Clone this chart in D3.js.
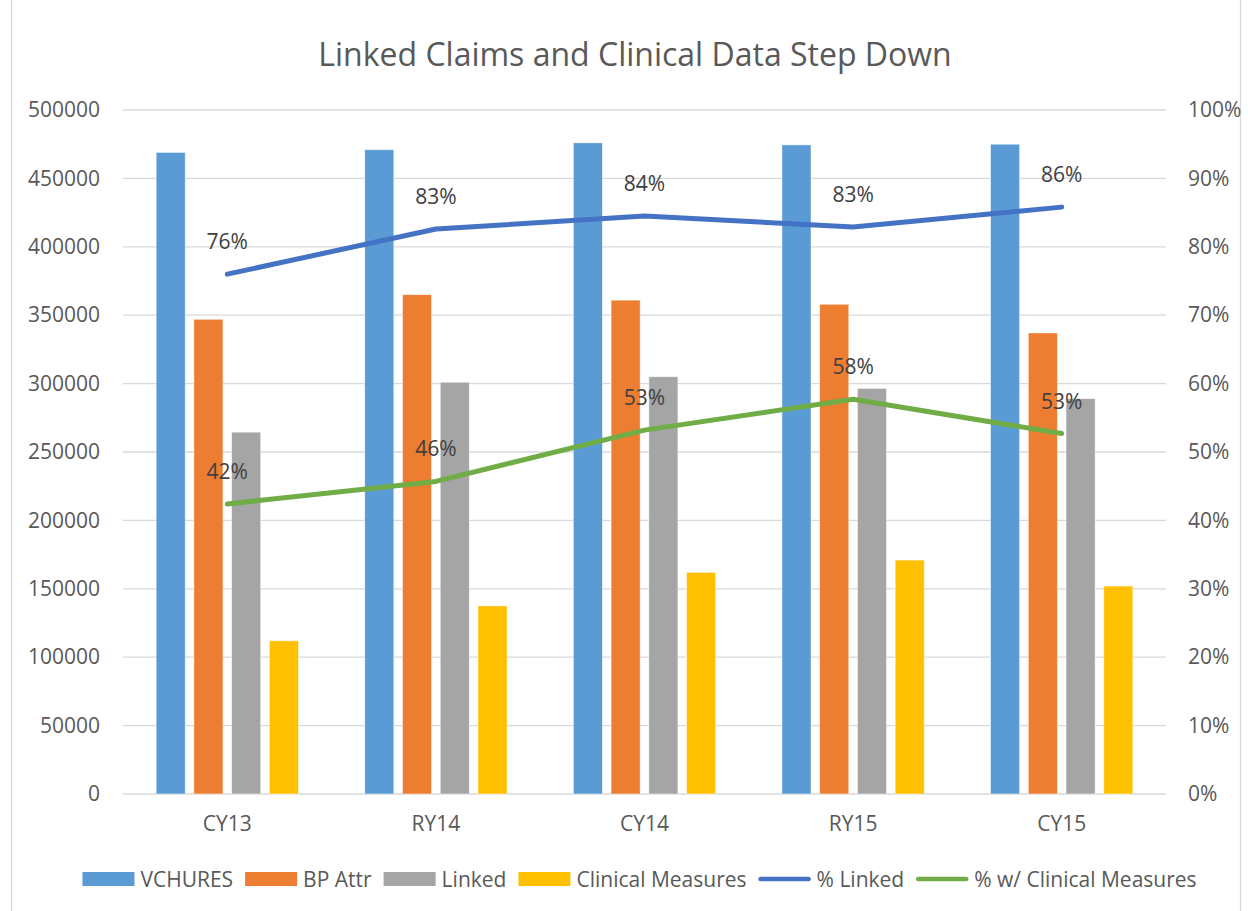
<!DOCTYPE html>
<html>
<head>
<meta charset="utf-8">
<script src="https://cdn.jsdelivr.net/npm/d3@7"></script>
<style>
  html, body { margin: 0; padding: 0; background: #fff; }
  svg { display: block; font-family: "Open Sans", "Noto Sans", sans-serif; }
</style>
</head>
<body>
<svg id="chart" width="1248" height="911"></svg>
<script>
const categories = ["CY13", "RY14", "CY14", "RY15", "CY15"];
const barSeries = ["VCHURES", "BP Attr", "Linked", "Clinical Measures"];
const vchures = [469000, 471000, 476000, 474500, 475000];
const bpAttr = [347000, 365000, 361000, 358000, 337000];
const linked = [264500, 301000, 305000, 296500, 289000];
const clinical = [112000, 137500, 162000, 171000, 152000];
const pctLinked = [0.76, 0.826, 0.845, 0.829, 0.858];
const pctClinical = [0.424, 0.457, 0.532, 0.577, 0.527];
const pctLinkedLabels = ["76%", "83%", "84%", "83%", "86%"];
const pctClinicalLabels = ["42%", "46%", "53%", "58%", "53%"];
const leftTicks = [0, 50000, 100000, 150000, 200000, 250000, 300000, 350000, 400000, 450000, 500000];
const rightTicks = [0, 0.1, 0.2, 0.3, 0.4, 0.5, 0.6, 0.7, 0.8, 0.9, 1.0];

const barValues = [vchures, bpAttr, linked, clinical];
const barColors = ["#5b9bd5", "#ed7d31", "#a5a5a5", "#ffc000"];
const lineSeries = [
  { name: "% Linked", values: pctLinked, labels: pctLinkedLabels, color: "#4472c4" },
  { name: "% w/ Clinical Measures", values: pctClinical, labels: pctClinicalLabels, color: "#70ad47" }
];

const svg = d3.select("#chart");
const plotL = 123, plotR = 1166, plotT = 110, plotB = 794;
const fs = 21;

// chart border
svg.append("rect").attr("x", 11.5).attr("y", -2).attr("width", 1229).attr("height", 920)
  .attr("fill", "none").attr("stroke", "#d9d9d9").attr("stroke-width", 1.3);

const x0 = d3.scaleBand().domain(categories).range([plotL, plotR]).paddingInner(0).paddingOuter(0);
const x1 = d3.scaleBand().domain(barSeries).range([-71.15, 71.15]).paddingInner(0.23).paddingOuter(0);
const yL = d3.scaleLinear().domain([0, 500000]).range([plotB, plotT]);
const yR = d3.scaleLinear().domain([0, 1]).range([plotB, plotT]);

// gridlines
svg.append("g").selectAll("line").data(leftTicks).join("line")
  .attr("x1", plotL).attr("x2", plotR)
  .attr("y1", d => yL(d)).attr("y2", d => yL(d))
  .attr("stroke", "#d9d9d9").attr("stroke-width", 1.3);

// left axis
const axL = d3.axisLeft(yL).tickValues(leftTicks).tickFormat(d3.format("d")).tickSize(0).tickPadding(23);
const gL = svg.append("g").attr("transform", `translate(${plotL},0)`).call(axL);
gL.select(".domain").remove();
gL.selectAll("text").attr("font-size", fs).attr("fill", "#595959").attr("font-family", "Open Sans");

// right axis
const axR = d3.axisRight(yR).tickValues(rightTicks).tickFormat(d3.format(".0%")).tickSize(0).tickPadding(22);
const gR = svg.append("g").attr("transform", `translate(${plotR},0)`).call(axR);
gR.select(".domain").remove();
gR.selectAll("text").attr("font-size", fs).attr("fill", "#595959").attr("font-family", "Open Sans");

// bottom axis
const axB = d3.axisBottom(x0).tickSize(0).tickPadding(22);
const gB = svg.append("g").attr("transform", `translate(0,${plotB})`).call(axB);
gB.select(".domain").remove();
gB.selectAll("text").attr("font-size", fs).attr("fill", "#595959").attr("font-family", "Open Sans");

// bars
const gBars = svg.append("g");
barSeries.forEach((s, si) => {
  gBars.append("g").selectAll("rect").data(barValues[si]).join("rect")
    .attr("x", (d, i) => x0(categories[i]) + x0.bandwidth() / 2 + x1(s))
    .attr("width", x1.bandwidth())
    .attr("y", d => yL(d))
    .attr("height", d => yL(0) - yL(d))
    .attr("fill", barColors[si])
    .attr("stroke", "#ffffff").attr("stroke-opacity", 0.6).attr("stroke-width", 0.8);
});

// lines
const cx = i => x0(categories[i]) + x0.bandwidth() / 2;
lineSeries.forEach(ls => {
  const line = d3.line().x((d, i) => cx(i)).y(d => yR(d));
  svg.append("path").datum(ls.values).attr("d", line)
    .attr("fill", "none").attr("stroke", ls.color).attr("stroke-width", 5)
    .attr("stroke-linecap", "round").attr("stroke-linejoin", "round");
});
lineSeries.forEach(ls => {
  svg.append("g").selectAll("text").data(ls.values).join("text")
    .attr("x", (d, i) => cx(i)).attr("y", d => yR(d) - 25)
    .attr("text-anchor", "middle").attr("font-size", fs).attr("fill", "#404040")
    .text((d, i) => ls.labels[i]);
});

// title
svg.append("text").attr("x", 635).attr("y", 66).attr("text-anchor", "middle")
  .attr("font-size", 32).attr("fill", "#595959").text("Linked Claims and Clinical Data Step Down");

// legend
const legendItems = barSeries.map((s, i) => ({ name: s, type: "bar", color: barColors[i] }))
  .concat(lineSeries.map(l => ({ name: l.name, type: "line", color: l.color })));
const gLeg = svg.append("g");
const ly = 879;
let cursor = 0;
const sw = 52, tgap = 6, igap = 12;
legendItems.forEach(it => {
  const g = gLeg.append("g").attr("transform", `translate(${cursor},0)`);
  if (it.type === "bar") {
    g.append("rect").attr("x", 0).attr("y", ly - 7).attr("width", sw).attr("height", 14).attr("fill", it.color);
  } else {
    g.append("line").attr("x1", 2).attr("x2", sw - 2).attr("y1", ly).attr("y2", ly)
      .attr("stroke", it.color).attr("stroke-width", 4.6).attr("stroke-linecap", "round");
  }
  const t = g.append("text").attr("x", sw + tgap).attr("y", ly + 7.5).attr("font-size", fs)
    .attr("fill", "#595959").text(it.name);
  cursor += sw + tgap + t.node().getComputedTextLength() + igap;
});
cursor -= igap;
gLeg.attr("transform", `translate(${639.5 - cursor / 2},0)`);
</script>
</body>
</html>
